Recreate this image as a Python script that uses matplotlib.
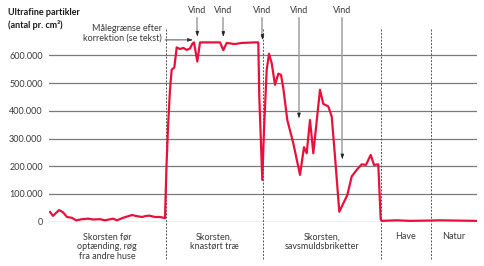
import matplotlib
matplotlib.use("Agg")
import matplotlib.pyplot as plt

# time axis (arbitrary sample units) and particle counts in thousands
t = [1, 4, 10, 14, 18, 23, 27, 33, 39, 44, 51, 56, 64, 68, 74, 83, 88, 93, 96,
     100, 106, 111, 116, 117.5, 119, 121, 122.7, 125.3, 127.7, 131, 134.3,
     137.7, 141, 143.3, 145, 148.3, 151, 171, 174.3, 177.7, 186, 192.7, 206,
     209.3, 210.3, 213.3, 215, 217.7, 220, 222.7, 226, 229.3, 232, 234.3,
     238.3, 244.3, 251, 255, 257.7, 261, 264.3, 271, 274.3, 279.3,
     282.7, 286, 290.3, 294.3, 298.3, 302.7, 307.7, 312.7, 317, 321.7, 325,
     329.3, 331.7, 332.7, 347.7, 361, 379, 391, 427]
ufp_k = [35, 21, 42, 34, 17, 14, 5, 9, 11, 8, 9, 5, 11, 5, 14, 24, 20, 17, 20,
         22, 17, 17, 13, 200, 340, 477, 549, 556, 629, 623, 627,
         620, 625, 642, 647, 578, 647, 647, 619, 645, 641, 645, 647,
         647, 450, 151, 331, 548, 606, 572, 494, 534, 530, 482,
         367, 283, 169, 269, 247, 367, 247, 476, 425, 416,
         380, 235, 36, 66, 96, 163, 187, 207, 205, 241, 205,
         207, 9, 3, 5, 3, 4, 5, 3]
ufp = [v * 1000 for v in ufp_k]

y_ticks = [0, 100000, 200000, 300000, 400000, 500000, 600000]
y_tick_labels = ["0", "100.000", "200.000", "300.000", "400.000", "500.000", "600.000"]

# section boundaries and labels
borders = [116.7, 214.3, 332, 381.7]
sections = ["Skorsten før\noptænding, røg\nfra andre huse", "Skorsten,\nknastørt træ",
            "Skorsten,\nsavsmuldsbriketter", "Have", "Natur"]
section_mid = [58, 165.5, 273, 357, 405]

# wind events: x position and where the arrow points to
wind_x = [148.3, 174.3, 213.5, 250, 293.3]
wind_tip = [668000, 667000, 656000, 373000, 225000]

plt.rcParams["font.family"] = ["Lato", "DejaVu Sans"]
red = "#e8103c"
grey = "#7a7a7a"
txt = "#3a3a3a"

fig = plt.figure(figsize=(4.85, 2.66), dpi=100)
ax = fig.add_axes([49 / 485, 1 - 221.7 / 266, 427.7 / 485, 221.7 / 266])
ax.set_xlim(0, 427.7)
ax.set_ylim(0, 800000)

for y in y_ticks:
    ax.axhline(y, color=grey, lw=0.9, zorder=1)

for b in borders:
    ax.plot([b, b], [696000, -138000], color="#555555", lw=0.7, ls=(0, (2, 1.5)),
            clip_on=False, zorder=2)

ax.plot(t, ufp, color=red, lw=1.6, zorder=3, solid_joinstyle="round")

for x, tip in zip(wind_x, wind_tip):
    ax.plot([x, x], [735000, tip + 15000], color="#a0a0a0", lw=1.1, zorder=4)
    ax.annotate("", xy=(x, tip), xytext=(x, tip + 20000),
                arrowprops=dict(arrowstyle="-|>,head_length=0.3,head_width=0.1",
                                color="#222222", lw=0.5, shrinkA=0, shrinkB=0),
                zorder=5)
    ax.text(x, 745000, "Vind", ha="center", va="bottom", fontsize=6.5, color=txt)

ax.annotate("", xy=(144, 656000), xytext=(116, 656000),
            arrowprops=dict(arrowstyle="-|>,head_length=0.3,head_width=0.1",
                            color="#333333", lw=0.6, shrinkA=0, shrinkB=0))
ax.text(113, 680000, "Målegrænse efter\nkorrektion (se tekst)", ha="right", va="center",
        fontsize=6.5, color=txt, linespacing=1.1)

for lab, xm in zip(sections, section_mid):
    ax.text(xm, -38000, lab, ha="center", va="top", fontsize=6.5, color=txt,
            linespacing=1.1, clip_on=False)

ax.text(-41, 732000, "Ultrafine partikler\n(antal pr. cm³)", ha="left", va="center",
        fontsize=6.5, fontweight="bold", color="#1a1a1a", linespacing=1.4)

ax.set_yticks(y_ticks)
ax.set_yticklabels(y_tick_labels, fontsize=6.5, color=txt)
ax.set_xticks([])
ax.tick_params(axis="y", length=0, pad=4.5)
for s in ax.spines.values():
    s.set_visible(False)
ax.patch.set_alpha(0)

fig.savefig("out.png", dpi=100)
